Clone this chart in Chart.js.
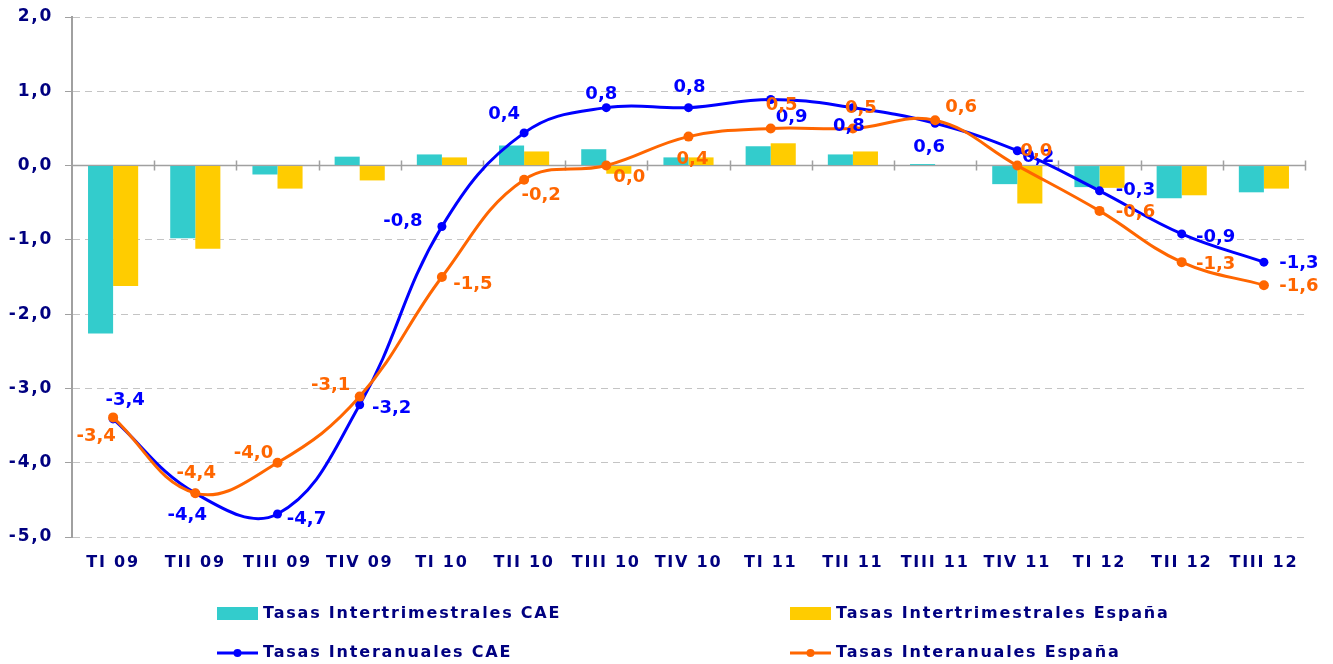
<!DOCTYPE html>
<html>
<head>
<meta charset="utf-8">
<script src="https://cdn.jsdelivr.net/npm/chart.js@4/dist/chart.umd.min.js"></script>
<style>
  html, body { margin: 0; padding: 0; background: #fff; }
  canvas { display: block; }
</style>
</head>
<body>
<canvas id="chart" width="1333" height="664"></canvas>
<script>
const categories = ['TI 09', 'TII 09', 'TIII 09', 'TIV 09', 'TI 10', 'TII 10', 'TIII 10', 'TIV 10',
  'TI 11', 'TII 11', 'TIII 11', 'TIV 11', 'TI 12', 'TII 12', 'TIII 12'];

// quarter-on-quarter rates (bars)
const interQuarterCAE = [-2.26, -0.98, -0.12, 0.12, 0.15, 0.27, 0.22, 0.11, 0.26, 0.15, 0.02, -0.25, -0.29, -0.44, -0.36];
const interQuarterSpain = [-1.62, -1.12, -0.31, -0.2, 0.11, 0.19, -0.11, 0.11, 0.30, 0.19, 0.0, -0.51, -0.3, -0.40, -0.31];

// year-on-year rates (lines)
const yearCAE = [-3.41, -4.41, -4.69, -3.22, -0.82, 0.44, 0.78, 0.78, 0.89, 0.78, 0.57, 0.2, -0.34, -0.92, -1.3];
const yearSpain = [-3.39, -4.41, -4.0, -3.11, -1.5, -0.19, 0.0, 0.39, 0.5, 0.5, 0.61, 0.0, -0.61, -1.3, -1.61];

const yMin = -5;
const yMax = 2;

// where each value label sits relative to its point (px)
const labelOffsetsCAE = [[12, -19], [-8, 22], [29, 5], [32, 4], [-39, -5], [-20, -19], [-5, -13], [1, -20],
  [21, 18], [-4, 19], [-6, 24], [21, 7], [36, -1], [34, 3], [35, 1]];
const labelOffsetsSpain = [[-17, 19], [1, -20], [-24, -9], [-29, -11], [31, 7], [17, 16], [23, 12], [4, 23],
  [11, -23], [8, -20], [26, -13], [19, -14], [36, 1], [34, 2], [35, 1]];

const colors = {
  cyan: '#33CCCC',
  yellow: '#FFCC00',
  blue: '#0000FF',
  orange: '#FF6600',
  text: '#000080',
  grid: '#C4C4C4',
  axis: '#A0A0A0'
};

const fmt = v => v.toFixed(1).replace('.', ',');

// axis text in the original is spaced out a bit
const spacingPlugin = {
  id: 'spacing',
  beforeDraw(chart) {
    chart.ctx.letterSpacing = '1.75px';
  }
};

// x axis sits on the zero line with small marks between quarters
const zeroAxisPlugin = {
  id: 'zeroAxis',
  beforeDatasetsDraw(chart) {
    const { ctx, chartArea, scales: { x, y } } = chart;
    const zero = y.getPixelForValue(0);
    const step = x.getPixelForValue(1) - x.getPixelForValue(0);
    ctx.save();
    ctx.strokeStyle = colors.axis;
    ctx.lineWidth = 1.5;
    ctx.beginPath();
    ctx.moveTo(chartArea.left, zero);
    ctx.lineTo(chartArea.right, zero);
    for (let i = 1; i <= categories.length; i++) {
      const bx = Math.round(x.getPixelForValue(i) - step / 2) + 0.5;
      ctx.moveTo(bx, zero - 5);
      ctx.lineTo(bx, zero + 5);
    }
    ctx.stroke();
    ctx.restore();
  }
};

const valueLabelPlugin = {
  id: 'valueLabels',
  afterDatasetsDraw(chart) {
    const { ctx } = chart;
    ctx.save();
    ctx.letterSpacing = '0px';
    ctx.font = 'bold 18px "DejaVu Sans"';
    ctx.textAlign = 'center';
    ctx.textBaseline = 'middle';
    chart.data.datasets.forEach((ds, di) => {
      if (!ds.labelOffsets) return;
      const meta = chart.getDatasetMeta(di);
      ctx.fillStyle = ds.borderColor;
      meta.data.forEach((pt, i) => {
        const [dx, dy] = ds.labelOffsets[i];
        ctx.fillText(fmt(ds.data[i]), pt.x + dx, pt.y + dy);
      });
    });
    ctx.restore();
  }
};

// two-by-two legend under the axis
const legendPlugin = {
  id: 'gridLegend',
  afterDraw(chart) {
    const { ctx } = chart;
    const slots = [[217, 614], [790, 614], [217, 653], [790, 653]];
    ctx.save();
    ctx.letterSpacing = '1.8px';
    ctx.font = 'bold 16px "DejaVu Sans"';
    ctx.textBaseline = 'middle';
    chart.data.datasets.forEach((ds, i) => {
      const [lx, ly] = slots[i];
      if (ds.type === 'bar') {
        ctx.fillStyle = ds.backgroundColor;
        ctx.fillRect(lx, ly - 7, 41, 13);
      } else {
        ctx.strokeStyle = ds.borderColor;
        ctx.lineWidth = 3;
        ctx.beginPath();
        ctx.moveTo(lx, ly);
        ctx.lineTo(lx + 41, ly);
        ctx.stroke();
        ctx.fillStyle = ds.borderColor;
        ctx.beginPath();
        ctx.arc(lx + 20.5, ly, 4, 0, Math.PI * 2);
        ctx.fill();
      }
      ctx.fillStyle = colors.text;
      ctx.fillText(ds.label, lx + 46, ly);
    });
    ctx.restore();
  }
};

const ctx = document.getElementById('chart').getContext('2d');

new Chart(ctx, {
  data: {
    labels: categories,
    datasets: [
      {
        type: 'bar',
        label: 'Tasas Intertrimestrales CAE',
        data: interQuarterCAE,
        backgroundColor: colors.cyan,
        order: 2
      },
      {
        type: 'bar',
        label: 'Tasas Intertrimestrales España',
        data: interQuarterSpain,
        backgroundColor: colors.yellow,
        order: 2
      },
      {
        type: 'line',
        label: 'Tasas Interanuales CAE',
        data: yearCAE,
        borderColor: colors.blue,
        backgroundColor: colors.blue,
        borderWidth: 3,
        pointRadius: 4.5,
        pointBorderWidth: 0,
        tension: 0.4,
        fill: false,
        labelOffsets: labelOffsetsCAE,
        order: 1
      },
      {
        type: 'line',
        label: 'Tasas Interanuales España',
        data: yearSpain,
        borderColor: colors.orange,
        backgroundColor: colors.orange,
        borderWidth: 3,
        pointRadius: 5,
        pointBorderWidth: 0,
        tension: 0.4,
        fill: false,
        labelOffsets: labelOffsetsSpain,
        order: 0
      }
    ]
  },
  options: {
    responsive: false,
    animation: false,
    layout: {
      padding: { top: 17, right: 28, bottom: 87, left: 0 }
    },
    datasets: {
      bar: {
        categoryPercentage: 0.61,
        barPercentage: 1.0
      }
    },
    scales: {
      x: {
        offset: true,
        grid: { display: false },
        border: { display: false },
        ticks: {
          color: colors.text,
          font: { family: 'DejaVu Sans', size: 16, weight: 'bold' },
          padding: 8,
          maxRotation: 0,
          autoSkip: false
        },
        afterFit: scale => { scale.height = 40; }
      },
      y: {
        min: yMin,
        max: yMax,
        grid: {
          color: colors.grid,
          lineWidth: 1,
          tickLength: 7,
          tickColor: colors.axis,
          tickWidth: 1
        },
        border: {
          display: true,
          color: colors.axis,
          width: 2,
          dash: [7, 5]
        },
        ticks: {
          stepSize: 1,
          color: colors.text,
          padding: 12,
          font: { family: 'DejaVu Sans', size: 17, weight: 'bold' },
          callback: value => fmt(value)
        },
        afterFit: scale => {
          scale.width = 72;
          scale.paddingTop = 0;
          scale.paddingBottom = 0;
        }
      }
    },
    plugins: {
      legend: { display: false },
      tooltip: { enabled: false }
    }
  },
  plugins: [spacingPlugin, zeroAxisPlugin, valueLabelPlugin, legendPlugin]
});
</script>
</body>
</html>
